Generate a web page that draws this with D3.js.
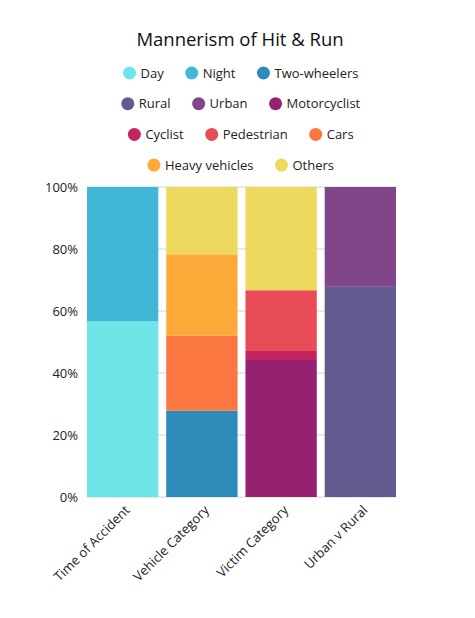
<!DOCTYPE html>
<html>
<head>
<meta charset="utf-8">
<script src="https://cdn.jsdelivr.net/npm/d3@7"></script>
<style>
  body { margin: 0; background: #fff; }
  text { font-family: "Open Sans", "Noto Sans", sans-serif; }
</style>
</head>
<body>
<script>
var svgW = 475;
var svgH = 618;

var categories = ["Time of Accident", "Vehicle Category", "Victim Category", "Urban v Rural"];
var seriesNames = ["Day", "Night", "Two-wheelers", "Rural", "Urban", "Motorcyclist",
  "Cyclist", "Pedestrian", "Cars", "Heavy vehicles", "Others"];
var seriesColors = ["#6ee6e8", "#42b6d6", "#2e8ab8", "#635b8f", "#804689", "#962170",
  "#c2255d", "#e84c57", "#fa7742", "#fbaa3a", "#ecd95d"];

// stacks, bottom to top, in %
var timeStack = [["Day", 56.7], ["Night", 43.3]];
var vehicleStack = [["Two-wheelers", 27.8], ["Cars", 24.2], ["Heavy vehicles", 26.3], ["Others", 21.7]];
var victimStack = [["Motorcyclist", 44.2], ["Cyclist", 2.9], ["Pedestrian", 19.6], ["Others", 33.3]];
var areaStack = [["Rural", 67.8], ["Urban", 32.2]];
var stacks = [timeStack, vehicleStack, victimStack, areaStack];

var yTicks = [0, 20, 40, 60, 80, 100];

var color = d3.scaleOrdinal().domain(seriesNames).range(seriesColors);

var svg = d3.select("body").append("svg")
  .attr("width", svgW)
  .attr("height", svgH);

svg.append("text")
  .attr("x", 240)
  .attr("y", 46)
  .attr("text-anchor", "middle")
  .attr("font-size", "18.5px")
  .attr("fill", "#111")
  .text("Mannerism of Hit & Run");

// legend, wrapped 3 per row, each row centred
var legendRows = [];
for (var i = 0; i < seriesNames.length; i += 3) legendRows.push(seriesNames.slice(i, i + 3));

legendRows.forEach(function(row, r) {
  var g = svg.append("g");
  var cx = 0;
  row.forEach(function(name, k) {
    var item = g.append("g").attr("transform", "translate(" + cx + ",0)");
    item.append("circle").attr("cx", 6).attr("cy", 0).attr("r", 6.5).attr("fill", color(name));
    var t = item.append("text")
      .attr("x", 17)
      .attr("y", 4.5)
      .attr("font-size", "13px")
      .attr("fill", "#222")
      .text(name);
    cx += 17 + t.node().getComputedTextLength() + 22;
  });
  var w = cx - 22;
  g.attr("transform", "translate(" + (241 - w / 2) + "," + (73 + r * 30.7) + ")");
});

var x = d3.scaleBand().domain(categories).range([87, 396]).paddingInner(0.1).paddingOuter(0);
var y = d3.scaleLinear().domain([0, 100]).range([497, 187]);

// gridlines
svg.append("g")
  .selectAll("line")
  .data(yTicks)
  .enter()
  .append("line")
  .attr("x1", 87)
  .attr("x2", 396)
  .attr("y1", function(d) { return y(d); })
  .attr("y2", function(d) { return y(d); })
  .attr("stroke", "#d4d4d4")
  .attr("stroke-width", 1);

var yAxis = svg.append("g")
  .attr("transform", "translate(80,0)")
  .call(d3.axisLeft(y).tickValues(yTicks).tickSize(0).tickFormat(function(d) { return d + "%"; }));
yAxis.select(".domain").remove();
yAxis.selectAll("text")
  .attr("font-family", "\"Open Sans\", sans-serif")
  .attr("font-size", "13px")
  .attr("fill", "#222")
  .attr("x", -2);

// bars
stacks.forEach(function(stack, ci) {
  var base = 0;
  var segs = stack.map(function(s) {
    var seg = { name: s[0], y0: base, y1: base + s[1] };
    base += s[1];
    return seg;
  });
  svg.append("g")
    .selectAll("rect")
    .data(segs)
    .enter()
    .append("rect")
    .attr("x", x(categories[ci]))
    .attr("width", x.bandwidth())
    .attr("y", function(d) { return y(d.y1); })
    .attr("height", function(d) { return y(d.y0) - y(d.y1); })
    .attr("fill", function(d) { return color(d.name); });
});

// x labels
var xAxis = svg.append("g")
  .attr("transform", "translate(0,497)")
  .call(d3.axisBottom(x).tickSize(0));
xAxis.select(".domain").remove();
xAxis.selectAll("text")
  .attr("font-family", "\"Open Sans\", sans-serif")
  .attr("font-size", "13px")
  .attr("fill", "#222")
  .attr("text-anchor", "end")
  .attr("dy", 0)
  .attr("y", 0)
  .attr("transform", "translate(8,14) rotate(-45)");
</script>
</body>
</html>
